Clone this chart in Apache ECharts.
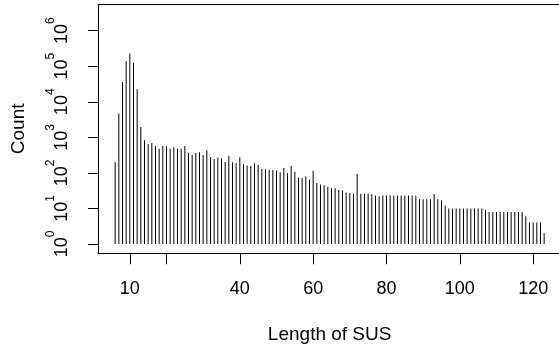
<!DOCTYPE html>
<html>
<head>
<meta charset="utf-8">
<script src="https://cdn.jsdelivr.net/npm/echarts@6/dist/echarts.min.js"></script>
<style>
html,body{margin:0;padding:0;background:#fff;}
#chart{width:559px;height:349px;}
</style>
</head>
<body>
<div id="chart"></div>
<script>
// Length of SUS (x) and counts (y, log scale)
const lengths = [
  6,7,8,9,10,11,12,13,14,15,
  16,17,18,19,20,21,22,23,24,25,
  26,27,28,29,30,31,32,33,34,35,
  36,37,38,39,40,41,42,43,44,45,
  46,47,48,49,50,51,52,53,54,55,
  56,57,58,59,60,61,62,63,64,65,
  66,67,68,69,70,71,72,73,74,75,
  76,77,78,79,80,81,82,83,84,85,
  86,87,88,89,90,91,92,93,94,95,
  96,97,98,99,100,101,102,103,104,105,
  106,107,108,109,110,111,112,113,114,115,
  116,117,118,119,120,121,122,123
];
const counts = [
  200,4700,36000,141000,229000,126000,22400,1950,830,650,
  690,575,470,575,560,480,525,480,480,575,
  370,316,363,380,316,436,282,245,269,257,
  204,302,200,186,275,178,162,155,186,166,
  129,126,120,120,117,105,138,100,155,107,
  74,72,81,65,115,52,47,45,41,37,
  37,33,32,28,27,26,93,26,26,26,
  25,23,22,23,23,23,23,23,23,23,
  23,23,23,18,18,18,18,25,18,17,
  12,10,10,10,10,10,10,10,10,10,
  10,9,8,8,8,8,8,8,8,8,
  8,8,6,4,4,4,4,2
];
const xTicks = [10, 20, 40, 60, 80, 100, 120];
const xLabels = [10, 40, 60, 80, 100, 120];
const yTicks = [1, 10, 100, 1000, 10000, 100000, 1000000];

const FONT = "'Liberation Sans', Arial, Helvetica, sans-serif";
const chart = echarts.init(document.getElementById('chart'), null, {renderer: 'canvas'});
chart.setOption({
  animation: false,
  backgroundColor: '#fff',
  grid: {
    left: 98, top: 4.5, width: 463.3, height: 248.7,
    show: false, containLabel: false, outerBoundsMode: 'none'
  },
  xAxis: [{
    type: 'value', min: 1.32, max: 127.68,
    splitLine: {show: false},
    axisLine: {show: true, onZero: false, lineStyle: {color: '#000', width: 1}},
    axisTick: {show: true, customValues: xTicks, length: 11, lineStyle: {color: '#000', width: 1}},
    axisLabel: {customValues: xLabels, margin: 27, color: '#000', fontSize: 18, fontFamily: FONT},
    name: 'Length of SUS', nameLocation: 'middle', nameGap: 72,
    nameTextStyle: {color: '#000', fontSize: 19, fontFamily: FONT}
  }, {
    type: 'value', min: 1.32, max: 127.68, position: 'top',
    splitLine: {show: false},
    axisLine: {show: true, onZero: false, lineStyle: {color: '#000', width: 1}},
    axisTick: {show: false}, axisLabel: {show: false}
  }],
  yAxis: {
    type: 'log', logBase: 10,
    min: Math.pow(10, -0.2591), max: Math.pow(10, 6.7362),
    splitLine: {show: false},
    axisLine: {show: true, onZero: false, lineStyle: {color: '#000', width: 1}},
    axisTick: {show: true, customValues: yTicks, length: 10, lineStyle: {color: '#000', width: 1}},
    axisLabel: {
      customValues: yTicks, rotate: 90, margin: 27, color: '#000',
      formatter: function (v) {
        const e = Math.round(Math.log10(v));
        return '{b|10}{s|' + e + '}';
      },
      rich: {
        b: {fontSize: 18, fontFamily: FONT, color: '#000', verticalAlign: 'bottom'},
        s: {fontSize: 12, fontFamily: FONT, color: '#000', padding: [0, 0, 14, 0]}
      }
    },
    name: 'Count', nameLocation: 'middle', nameGap: 70, nameRotate: 90,
    nameTextStyle: {color: '#000', fontSize: 19, fontFamily: FONT}
  },
  series: [{
    type: 'bar',
    xAxisIndex: 0,
    data: lengths.map((x, i) => [x, counts[i]]),
    barWidth: 1,
    itemStyle: {color: '#000'},
    silent: true
  }]
});
</script>
</body>
</html>
